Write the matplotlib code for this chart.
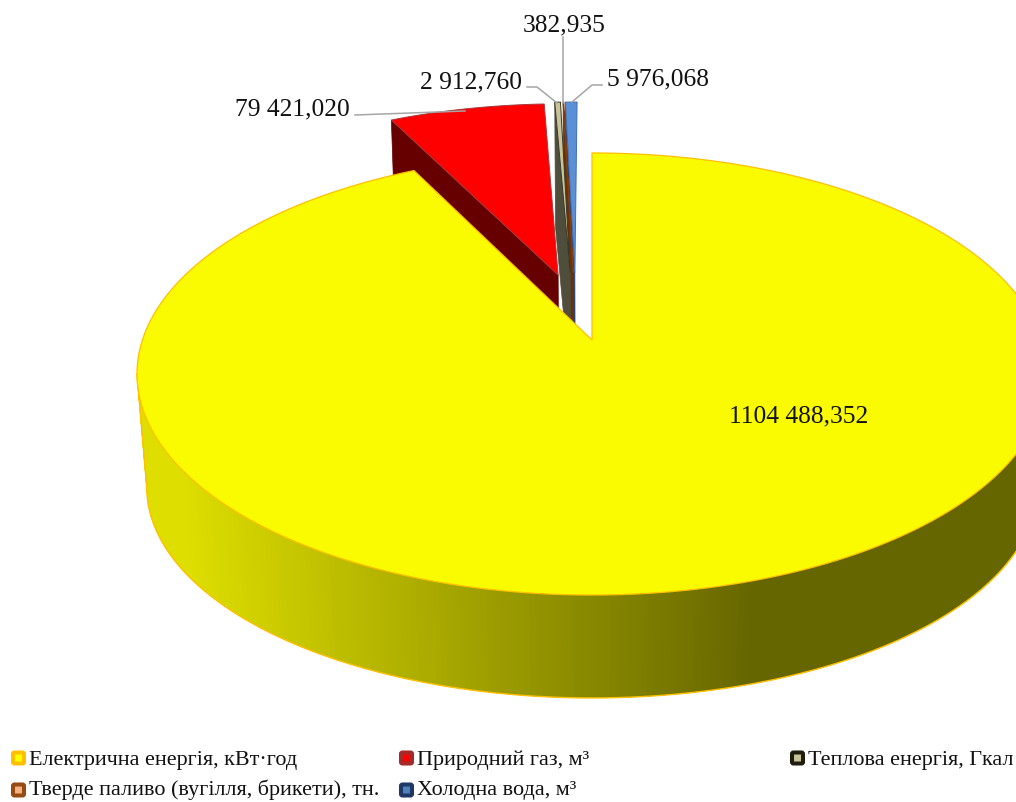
import numpy as np
import matplotlib
matplotlib.use("Agg")
import matplotlib.pyplot as plt
from matplotlib.collections import PolyCollection
from matplotlib.patches import FancyBboxPatch

categories = ["Електрична енергія, кВт·год", "Природний газ, м³", "Теплова енергія, Гкал",
              "Тверде паливо (вугілля, брикети), тн.", "Холодна вода, м³"]
values = [1104488.352, 79421.020, 2912.760, 382.935, 5976.068]
value_labels = ["1104 488,352", "79 421,020", "2 912,760", "382,935", "5 976,068"]

top_colors = ["#FBFB00", "#FF0000", "#C8C49A", "#E07B1F", "#5B8FD6"]
edge_colors = ["#FFC000", "#A5393B", "#3A3626", "#843C0C", "#3F6FB0"]
wall_colors = ["#666600", "#660000", "#4F4E3C", "#6B3208", "#264478"]
legend_edges = ["#FFC000", "#A52A2A", "#1F1C10", "#964B12", "#1F3864"]
legend_faces = ["#FFFF00", "#FF0000", "#C8C49A", "#F4B183", "#4F81BD"]

# explosion offset of each slice in disk coordinates (u, v)
explode = [(0, 0), (-0.079, 0.316), (-0.051, 0.328), (-0.044, 0.328), (-0.040, 0.328)]

CX, K = 592.0, 0.1538
TOP = dict(a=449.6, b=215.8, c=340.0)
BOT = dict(a=440.0, b=206.0, c=454.5)
FONT = "Liberation Serif"


def project(u, v, plane):
    w = 1 + K * v
    return CX + plane["a"] * u / w, plane["c"] - plane["b"] * v / w


fig = plt.figure(figsize=(10.16, 8.02), dpi=100)
ax = fig.add_axes([0, 0, 1, 1])
ax.set_xlim(0, 1016)
ax.set_ylim(802, 0)
ax.axis("off")

fracs = np.array(values) / np.sum(values) * 2 * np.pi
starts = np.concatenate([[0], np.cumsum(fracs)[:-1]])


def rim(th, off, plane):
    return project(off[0] + np.sin(th), off[1] + np.cos(th), plane)


# slices drawn back to front: water, solid, heat, gas, electricity
for i in [4, 3, 2, 1]:
    t0, t1 = starts[i], starts[i] + fracs[i]
    off = explode[i]
    a0 = project(off[0], off[1], TOP)
    a1 = project(off[0], off[1], BOT)
    o0 = rim(t0, off, TOP)
    o1 = rim(t0, off, BOT)
    ax.fill([o0[0], a0[0], a1[0], o1[0]], [o0[1], a0[1], a1[1], o1[1]],
            color=wall_colors[i], ec=wall_colors[i], lw=0.5, zorder=2 + (4 - i) * 2)
    th = np.linspace(t0, t1, 30)
    x, y = rim(th, off, TOP)
    ax.fill(np.r_[a0[0], x], np.r_[a0[1], y], fc=top_colors[i], ec=edge_colors[i],
            lw=0.7, zorder=3 + (4 - i) * 2)

# electricity: outer wall with gradient; each band overlaps the next to hide seams
ext = np.arccos(-K)
th = np.linspace(ext, 2 * np.pi - ext, 241)
xt, yt = rim(th, (0, 0), TOP)
xb, yb = rim(th, (0, 0), BOT)
quads, shades = [], []
for j in range(len(th) - 1):
    e = min(j + 4, len(th) - 1)
    quads.append(list(zip(np.r_[xt[j:e + 1], xb[j:e + 1][::-1]], np.r_[yt[j:e + 1], yb[j:e + 1][::-1]])))
    xm = (xb[j] + xb[j + 1]) / 2
    g = np.clip(102 + (750 - xm) / 550 * 118, 102, 222) / 255
    shades.append((g, g, 0))
pc = PolyCollection(quads, facecolors=shades, edgecolors="none", linewidths=0, zorder=12)
ax.add_collection(pc)
ax.plot(np.r_[xt[-1], xb[::-1]], np.r_[yt[-1], yb[::-1]], color="#FFC000", lw=1.0, zorder=13)

th = np.linspace(0, fracs[0], 500)
x, y = rim(th, (0, 0), TOP)
ax0, ay0 = project(0, 0, TOP)
ax.fill(np.r_[ax0, x], np.r_[ay0, y], fc=top_colors[0], ec=edge_colors[0], lw=0.9,
        joinstyle="miter", zorder=14)

# leader lines
leaders = [
    ([355, 465], [115, 111]),
    ([527, 537, 557], [87, 87, 103]),
    ([563, 563], [37, 103]),
    ([602, 592, 572], [85, 85, 102]),
]
for lx, ly in leaders:
    ax.plot(lx, ly, color="#A6A6A6", lw=1.1, zorder=20)

label_pos = [(799, 416), (292, 109), (471, 82), (564, 25), (658, 79)]
for (px, py), s in zip(label_pos, value_labels):
    ax.text(px, py, s, ha="center", va="center", family=FONT, fontsize=18.4, color="#111111", zorder=21)

legend_pos = [(11, 758), (399, 758), (790, 758), (11, 790), (399, 790)]
for i, (px, py) in enumerate(legend_pos):
    ax.add_patch(FancyBboxPatch((px + 2, py - 5.5), 11, 11, boxstyle="round,pad=0,rounding_size=1.5",
                                fc=legend_faces[i], ec=legend_edges[i], lw=2.9, zorder=20))
    ax.text(px + 18, min(py + 2, 790), categories[i], ha="left", va="center", family=FONT, fontsize=15.9,
            color="#111111", zorder=21)

fig.savefig("out.png", dpi=100)
